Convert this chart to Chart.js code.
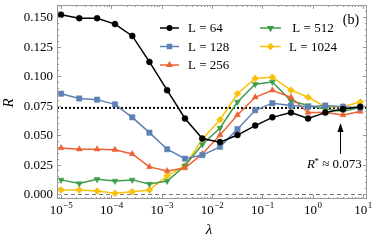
<!DOCTYPE html>
<html>
<head>
<meta charset="utf-8">
<script src="https://cdn.jsdelivr.net/npm/chart.js@4/dist/chart.umd.min.js"></script>
<style>
  html, body { margin: 0; background: #fff; }
</style>
</head>
<body>
<canvas id="c" width="374" height="244"></canvas>
<script>
// lambda grid
const lambda = [1e-5, 2.3e-5, 5.2e-5, 1.18e-4, 2.6e-4, 5.7e-4, 1.28e-3, 2.9e-3, 6.4e-3,
  0.0144, 0.032, 0.072, 0.158, 0.37, 0.81, 1.78, 4.0, 8.8];

const r64   = [0.152, 0.149, 0.149, 0.144, 0.134, 0.112, 0.088, 0.064, 0.047, 0.044, 0.050, 0.058, 0.065, 0.069, 0.064, 0.069, 0.072, 0.074];
const r128  = [0.085, 0.081, 0.080, 0.076, 0.065, 0.052, 0.038, 0.030, 0.033, 0.040, 0.055, 0.071, 0.077, 0.075, 0.074, 0.075, 0.074, 0.073];
const r256  = [0.039, 0.038, 0.038, 0.0375, 0.034, 0.023, 0.0195, 0.022, 0.034, 0.050, 0.067, 0.082, 0.088, 0.082, 0.069, 0.069, 0.067, 0.070];
const r512  = [0.012, 0.009, 0.0125, 0.011, 0.012, 0.0085, 0.011, 0.024, 0.042, 0.056, 0.078, 0.093, 0.095, 0.079, 0.075, 0.072, 0.070, 0.0735];
const r1024 = [0.0035, 0.0035, 0.0025, 0.0006, 0.002, 0.0035, 0.0155, 0.024, 0.0465, 0.063, 0.085, 0.098, 0.099, 0.088, 0.082, 0.074, 0.074, 0.078];

const yTicks = [0, 0.025, 0.05, 0.075, 0.1, 0.125, 0.15];
const yTickLabels = ['0.000', '0.025', '0.050', '0.075', '0.100', '0.125', '0.150'];
const xExps = [-5, -4, -3, -2, -1, 0, 1];
const rStar = 0.073;

const series = [
  { label: 'L = 64',   vals: r64,   color: '#000000', style: 'circle',   radius: 3,   rot: 0 },
  { label: 'L = 128',  vals: r128,  color: '#5E81B5', style: 'rect',     radius: 3.8, rot: 0 },
  { label: 'L = 256',  vals: r256,  color: '#EB6235', style: 'triangle', radius: 3.5, rot: 0 },
  { label: 'L = 512',  vals: r512,  color: '#3E9B48', style: 'triangle', radius: 3.5, rot: 180 },
  { label: 'L = 1024', vals: r1024, color: '#FBC00C', style: 'rectRot',  radius: 3.5, rot: 0 }
];

const serif = '"Liberation Serif", "DejaVu Serif", serif';

const decor = {
  id: 'decor',
  beforeDatasetsDraw(chart) {
    const { ctx, chartArea: a, scales: { x, y } } = chart;
    ctx.save();
    // zero line
    ctx.strokeStyle = '#555';
    ctx.lineWidth = 0.8;
    ctx.setLineDash([4, 3]);
    let py = Math.round(y.getPixelForValue(0)) + 0.5;
    ctx.beginPath(); ctx.moveTo(a.left, py); ctx.lineTo(a.right, py); ctx.stroke();
    // R* line
    ctx.strokeStyle = '#000';
    ctx.lineWidth = 2;
    ctx.setLineDash([2, 2]);
    py = y.getPixelForValue(rStar);
    ctx.beginPath(); ctx.moveTo(a.left, py); ctx.lineTo(a.right, py); ctx.stroke();
    ctx.restore();
  },
  afterDraw(chart) {
    const { ctx, chartArea: a, scales: { x, y } } = chart;
    ctx.save();
    ctx.strokeStyle = '#9a9a9a';
    ctx.lineWidth = 1;
    ctx.strokeRect(a.left + 0.5, a.top + 0.5, a.right - a.left - 1, a.bottom - a.top - 1);

    // ticks
    ctx.beginPath();
    for (let e = -6; e <= 1; e++) {
      for (let m = 1; m <= 9; m++) {
        const v = m * Math.pow(10, e);
        if (v < x.min || v > x.max) continue;
        const px = Math.round(x.getPixelForValue(v)) + 0.5;
        const len = m === 1 ? 4 : 2;
        ctx.moveTo(px, a.bottom); ctx.lineTo(px, a.bottom - len);
        ctx.moveTo(px, a.top); ctx.lineTo(px, a.top + len);
      }
    }
    for (let i = 0; i <= 32; i++) {
      const v = i * 0.005;
      if (v > y.max) continue;
      const py = Math.round(y.getPixelForValue(v)) + 0.5;
      const len = i % 5 === 0 ? 4 : 2;
      ctx.moveTo(a.left, py); ctx.lineTo(a.left + len, py);
      ctx.moveTo(a.right, py); ctx.lineTo(a.right - len, py);
    }
    ctx.stroke();

    // y tick labels
    ctx.fillStyle = '#000';
    ctx.font = '13px ' + serif;
    ctx.textAlign = 'right';
    ctx.textBaseline = 'middle';
    yTicks.forEach((v, i) => ctx.fillText(yTickLabels[i], a.left - 4, y.getPixelForValue(v) + 1));

    // x tick labels 10^n
    ctx.textAlign = 'left';
    ctx.textBaseline = 'alphabetic';
    xExps.forEach(e => {
      const px = x.getPixelForValue(Math.pow(10, e));
      const ex = e < 0 ? '\u2212' + (-e) : String(e);
      ctx.font = '13px ' + serif;
      const wb = ctx.measureText('10').width;
      ctx.font = '9px ' + serif;
      const we = ctx.measureText(ex).width;
      const x0 = px - (wb + we) / 2;
      ctx.font = '13px ' + serif;
      ctx.fillText('10', x0, 214);
      ctx.font = '9px ' + serif;
      ctx.fillText(ex, x0 + wb + 0.5, 208);
    });

    // axis titles
    ctx.font = 'italic 15px ' + serif;
    ctx.textAlign = 'center';
    ctx.textBaseline = 'middle';
    ctx.fillText('\u03bb', 209, 230);
    ctx.save();
    ctx.translate(9, 103);
    ctx.rotate(-Math.PI / 2);
    ctx.fillText('R', 0, 0);
    ctx.restore();

    // (b)
    ctx.font = '14px ' + serif;
    ctx.fillText('(b)', 351, 20);

    // legend
    const pos = [
      { x1: 160, x2: 179, y: 28, tx: 188, align: 'left' },
      { x1: 160, x2: 179, y: 46.5, tx: 188, align: 'left' },
      { x1: 160, x2: 179, y: 65, tx: 188, align: 'left' },
      { x1: 260, x2: 281, y: 28, tx: 313, align: 'center' },
      { x1: 260, x2: 281, y: 46.5, tx: 313, align: 'center' }
    ];
    series.forEach((s, i) => {
      const p = pos[i];
      ctx.strokeStyle = s.color;
      ctx.lineWidth = 1.5;
      ctx.beginPath(); ctx.moveTo(p.x1, p.y); ctx.lineTo(p.x2, p.y); ctx.stroke();
      ctx.fillStyle = s.color;
      Chart.helpers.drawPoint(ctx, { pointStyle: s.style, radius: s.radius * 0.75, rotation: s.rot, borderWidth: 0.5 }, (p.x1 + p.x2) / 2, p.y);
      ctx.fillStyle = '#000';
      ctx.font = '13px ' + serif;
      ctx.textAlign = p.align;
      ctx.textBaseline = 'middle';
      ctx.fillText(s.label, p.tx, p.y + 1);
    });

    // R* annotation with arrow
    ctx.fillStyle = '#000';
    ctx.strokeStyle = '#000';
    ctx.lineWidth = 1;
    ctx.beginPath(); ctx.moveTo(340.5, 154); ctx.lineTo(340.5, 129); ctx.stroke();
    ctx.beginPath(); ctx.moveTo(340.5, 123); ctx.lineTo(337.5, 132); ctx.lineTo(343.5, 132); ctx.closePath(); ctx.fill();
    ctx.textAlign = 'left';
    ctx.textBaseline = 'alphabetic';
    let tx = 307;
    ctx.font = 'italic 13px ' + serif;
    ctx.fillText('R', tx, 168);
    tx += ctx.measureText('R').width - 0.5;
    ctx.font = '9px ' + serif;
    ctx.fillText('*', tx, 164);
    tx += ctx.measureText('*').width;
    ctx.font = '13px ' + serif;
    ctx.fillText(' \u2248 0.073', tx, 168);
    ctx.restore();
  }
};

new Chart(document.getElementById('c'), {
  type: 'line',
  data: {
    datasets: series.map(s => ({
      label: s.label,
      data: lambda.map((v, i) => ({ x: v, y: s.vals[i] })),
      borderColor: s.color,
      backgroundColor: s.color,
      borderWidth: 1.5,
      pointStyle: s.style,
      pointRadius: s.radius,
      pointRotation: s.rot,
      pointBorderWidth: 0.5,
      tension: 0
    }))
  },
  options: {
    responsive: false,
    animation: false,
    devicePixelRatio: 1,
    layout: { padding: { left: 57, right: 7, top: 5, bottom: 45 } },
    plugins: { legend: { display: false }, tooltip: { enabled: false } },
    scales: {
      x: { type: 'logarithmic', min: 8.3e-6, max: 12, display: false },
      y: { type: 'linear', min: -0.0042, max: 0.1602, display: false }
    }
  },
  plugins: [decor]
});
</script>
</body>
</html>
